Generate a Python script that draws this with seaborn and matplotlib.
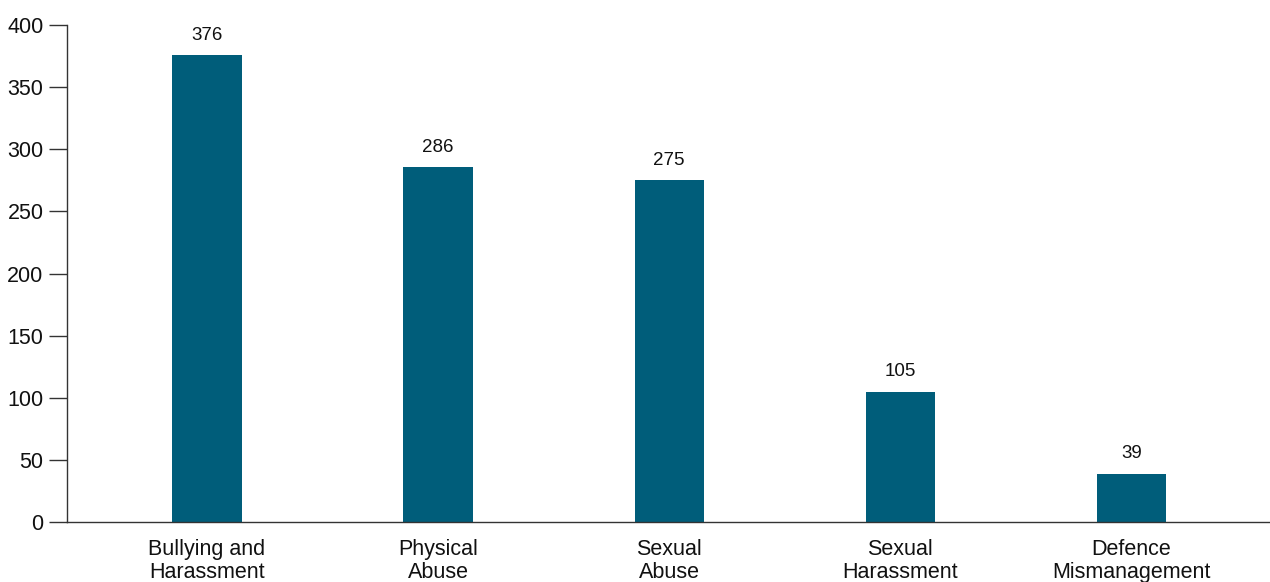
import matplotlib
matplotlib.use("Agg")
import matplotlib.pyplot as plt
import seaborn as sns
import pandas as pd

categories = ["Bullying and\nHarassment", "Physical\nAbuse", "Sexual\nAbuse", "Sexual\nHarassment", "Defence\nMismanagement"]
values = [376, 286, 275, 105, 39]
yticks = [0, 50, 100, 150, 200, 250, 300, 350, 400]

sns.set_theme(style="white")
plt.rcParams['font.family'] = ['Liberation Sans', 'DejaVu Sans']

df = pd.DataFrame({"category": categories, "value": values})

fig = plt.figure(figsize=(12.7, 5.82), dpi=100)
ax = fig.add_axes([67/1270, 1-522/582, 1-67/1270, (522-25)/582])
sns.barplot(data=df, x="category", y="value", color="#005d7a", saturation=1, width=0.30, linewidth=0, ax=ax)

ax.set_xlim(-0.606, 4.60)
ax.set_ylim(0, 400)
ax.set_yticks(yticks)
ax.set_yticklabels([str(t) for t in yticks], fontsize=15.5, color="#111111")
ax.set_xlabel("")
ax.set_ylabel("")
for lab in ax.get_xticklabels():
    lab.set_fontsize(15.5)
    lab.set_linespacing(1.15)
    lab.set_color("#111111")
ax.tick_params(axis="x", length=0, pad=12)
ax.tick_params(axis="y", length=13, width=1, color="#333333", pad=4, left=True)
for s in ["top", "right"]:
    ax.spines[s].set_visible(False)
for s in ["left", "bottom"]:
    ax.spines[s].set_color("#333333")
    ax.spines[s].set_linewidth(1)
ax.bar_label(ax.containers[0], labels=[str(v) for v in values], padding=8, fontsize=13.5, color="#111111")

fig.savefig("out.png", dpi=100)
